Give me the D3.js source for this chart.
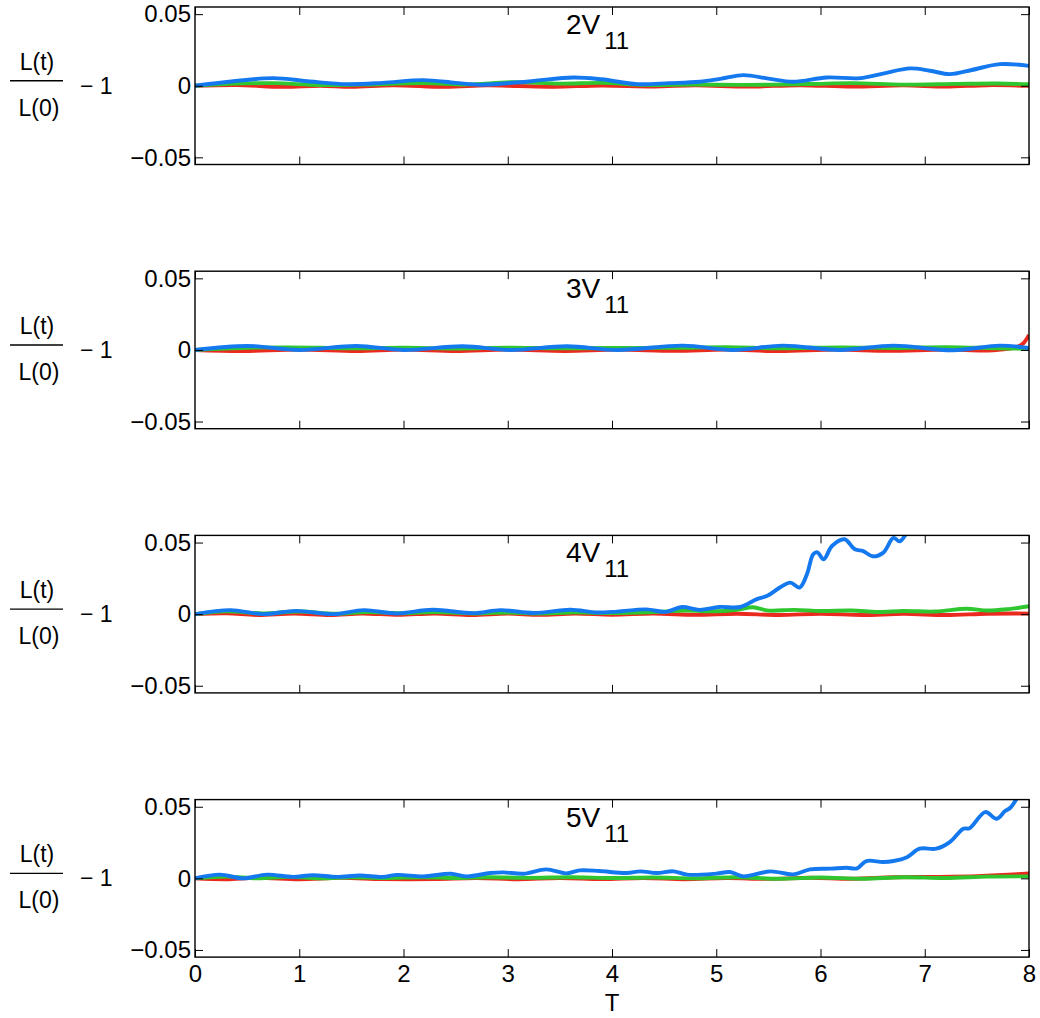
<!DOCTYPE html>
<html>
<head>
<meta charset="utf-8">
<script src="https://cdn.jsdelivr.net/npm/d3@7"></script>
<style>
  body { margin: 0; background: #fff; }
  svg { display: block; font-family: "Liberation Sans", Arial, sans-serif; }
</style>
</head>
<body>
<div id="chart"></div>
<script>
// panel titles (prefix + subscript)
const panelNames = ["2V", "3V", "4V", "5V"];
const panelSub = "11";

const xTicks = [0, 1, 2, 3, 4, 5, 6, 7, 8];
const yTicks = [-0.05, 0, 0.05];

// [T, L(t)/L(0) - 1]
const red1 = [[0,0],[0.4,0.0005],[0.85,-0.0008],[1.2,0],[1.5,-0.0008],[1.9,0.0004],[2.4,-0.0008],[2.8,0.0003],[3.1,-0.0002],[3.45,-0.0007],[3.9,0.0002],[4.4,-0.0005],[4.8,0.0003],[5.3,-0.0006],[5.8,0.0004],[6.3,-0.0006],[6.8,0.0003],[7.2,-0.0006],[7.6,0.0004],[8,0]];
const green1 = [[0,0],[0.4,0.0015],[0.75,0.0018],[1.2,0.0005],[1.6,0.0008],[2.2,0.0018],[2.6,0.0008],[3.05,0.0025],[3.5,0.0015],[3.9,0.002],[4.3,0.0006],[4.8,0.0008],[5.3,0.0006],[5.9,0.0012],[6.3,0.0018],[6.8,0.0008],[7.3,0.0013],[7.7,0.0016],[8,0.001]];
const blue1 = [[0,0],[0.35,0.003],[0.75,0.0053],[1.1,0.003],[1.46,0.0011],[1.8,0.002],[2.19,0.0039],[2.5,0.002],[2.75,0.0007],[3.2,0.003],[3.63,0.0058],[3.9,0.0045],[4.24,0.0011],[4.55,0.0018],[4.84,0.0028],[5.05,0.005],[5.26,0.0074],[5.5,0.005],[5.74,0.0028],[6.06,0.0058],[6.38,0.0053],[6.6,0.0085],[6.86,0.0121],[7.05,0.0105],[7.24,0.0081],[7.45,0.011],[7.72,0.0151],[8,0.0139]];

const red2 = [[0,0],[0.45,-0.0008],[1.0,0.0003],[1.55,-0.0008],[2.0,0.0002],[2.5,-0.0008],[3.0,0.0002],[3.55,-0.0007],[4.05,0.0002],[4.6,-0.0006],[5.1,0.0002],[5.6,-0.0008],[6.15,0.0002],[6.65,-0.0006],[7.2,0.0002],[7.6,-0.0004],[7.8,0.0008],[7.9,0.0025],[7.95,0.005],[8,0.0105]];
const green2 = [[0,0],[0.5,0.0015],[0.9,0.0018],[1.5,0.0012],[2.0,0.0016],[2.5,0.001],[3.0,0.0016],[3.5,0.0012],[4.0,0.0014],[4.6,0.0015],[5.1,0.002],[5.6,0.0012],[6.2,0.0018],[6.7,0.0014],[7.2,0.002],[7.7,0.0012],[8,0.0008]];
const blue2 = [[0,0],[0.5,0.0028],[1.0,0],[1.55,0.0028],[2.0,0],[2.57,0.0026],[3.02,0],[3.57,0.0026],[4.05,0],[4.68,0.003],[5.16,0],[5.64,0.003],[6.19,0],[6.7,0.003],[7.27,-0.0002],[7.72,0.003],[8,0.0014]];

const red3 = [[0,0],[0.3,0.0006],[0.6,-0.0006],[0.95,0.0004],[1.3,-0.0006],[1.6,0.0005],[1.95,-0.0005],[2.3,0.0005],[2.65,-0.0006],[3.0,0.0004],[3.3,-0.0005],[3.65,0.0004],[4.0,-0.0004],[4.4,0.0004],[4.8,-0.0005],[5.2,0.0003],[5.6,-0.0006],[6.0,0.0003],[6.4,-0.0006],[6.8,0.0002],[7.2,-0.0006],[7.6,0.0003],[8,0.0004]];
const green3 = [[0,0],[0.3,0.002],[0.65,0.0005],[1.0,0.0018],[1.35,0.0003],[1.65,0.0015],[2.0,0.0006],[2.3,0.0015],[2.7,0.0005],[3.0,0.0012],[3.3,0.0005],[3.6,0.0012],[4.0,0.0008],[4.4,0.0015],[4.7,0.0025],[5.0,0.002],[5.2,0.003],[5.35,0.0048],[5.5,0.0025],[5.75,0.003],[6.0,0.0022],[6.3,0.0025],[6.55,0.0015],[6.8,0.0022],[7.1,0.0018],[7.4,0.0038],[7.6,0.0025],[7.8,0.0035],[8,0.0055]];
const blue3 = [[0,0],[0.34,0.0028],[0.65,0],[0.97,0.0023],[1.33,0],[1.62,0.0028],[1.93,0.0005],[2.28,0.0031],[2.67,0.0007],[2.93,0.0028],[3.25,0.0008],[3.6,0.0031],[3.85,0.0012],[4.05,0.0018],[4.33,0.0033],[4.52,0.0016],[4.67,0.005],[4.84,0.003],[5.03,0.005],[5.23,0.005],[5.39,0.0105],[5.49,0.0128],[5.61,0.0186],[5.71,0.022],[5.8,0.0186],[5.87,0.0279],[5.93,0.0418],[5.97,0.0432],[6.03,0.0383],[6.11,0.0476],[6.23,0.0523],[6.33,0.0453],[6.41,0.044],[6.5,0.0404],[6.6,0.0428],[6.7,0.0532],[6.76,0.0509],[6.85,0.06]];

const red4 = [[0,0],[0.3,-0.0006],[0.6,0.0004],[1.0,-0.0006],[1.4,0.0003],[1.8,-0.0005],[2.3,-0.0005],[2.7,0.0002],[3.1,-0.0006],[3.5,0.0002],[3.9,-0.0005],[4.3,0.0002],[4.7,-0.0006],[5.1,0.0002],[5.5,-0.0004],[5.9,0.0004],[6.3,-0.0003],[6.7,0.0008],[7.1,0.001],[7.5,0.0015],[7.8,0.0025],[8,0.0035]];
const green4 = [[0,0],[0.3,0.0012],[0.6,0],[0.9,0.001],[1.2,0],[1.5,0.0008],[1.8,0.0002],[2.2,0.0008],[2.5,0.0002],[2.8,0.0008],[3.2,0.0003],[3.6,0.0008],[4.0,0.0002],[4.4,0.0006],[4.8,0],[5.2,0.0008],[5.6,-0.0003],[6.0,0.0006],[6.4,-0.0003],[6.8,0.0008],[7.2,0.0002],[7.6,0.0012],[8,0.0014]];
const blue4 = [[0,0],[0.24,0.0026],[0.46,0],[0.69,0.0026],[0.94,0.001],[1.13,0.0022],[1.36,0.001],[1.58,0.002],[1.8,0.001],[1.94,0.0024],[2.19,0.0014],[2.45,0.0032],[2.61,0.0014],[2.83,0.0037],[2.96,0.0042],[3.15,0.0032],[3.37,0.0063],[3.56,0.0035],[3.69,0.0056],[3.88,0.0051],[4.14,0.0037],[4.27,0.0049],[4.43,0.0037],[4.59,0.0049],[4.72,0.0026],[5.0,0.0033],[5.13,0.0044],[5.26,0.0014],[5.52,0.0049],[5.74,0.0028],[5.9,0.0063],[6.1,0.0068],[6.25,0.0074],[6.35,0.007],[6.44,0.0121],[6.6,0.0114],[6.7,0.0121],[6.83,0.0148],[6.95,0.0207],[7.11,0.0207],[7.24,0.0253],[7.37,0.0347],[7.43,0.035],[7.58,0.0463],[7.69,0.0416],[7.77,0.047],[7.82,0.0493],[7.9,0.058]];

const panelSeries = [
  [red1, green1, blue1],
  [red2, green2, blue2],
  [red3, green3, blue3],
  [red4, green4, blue4]
];
const seriesColors = ["#ea2a1f", "#2fc62f", "#1479ee"];

/** layout */
const W = 1040, H = 1018;
const left = 195, right = 1029;
const panelH = 157.5, panelStep = 264.2, firstTop = 7;
const tickLen = 8;
const tickFont = 24;   // tick labels and T
const labelFont = 23;  // L(t)/L(0) - 1

const svg = d3.select("#chart").append("svg")
  .attr("width", W)
  .attr("height", H);

const x = d3.scaleLinear().domain([0, 8]).range([left, right]);

const line = d3.line()
  .curve(d3.curveCatmullRom.alpha(0.5));

panelSeries.forEach(function(series, i) {
  const top = firstTop + i * panelStep;
  const bottom = top + panelH;
  const y = d3.scaleLinear().domain([-0.055, 0.055]).range([bottom, top]);
  const isLast = i === panelSeries.length - 1;

  const g = svg.append("g").attr("class", "panel");

  // clip for lines
  g.append("clipPath")
    .attr("id", "clip" + i)
    .append("rect")
    .attr("x", left).attr("y", top)
    .attr("width", right - left).attr("height", panelH);

  const lines = g.append("g").attr("clip-path", "url(#clip" + i + ")");
  series.forEach(function(s, k) {
    lines.append("path")
      .attr("d", line(s.map(p => [x(p[0]), y(p[1])])))
      .attr("fill", "none")
      .attr("stroke", seriesColors[k])
      .attr("stroke-width", 3.9)
      .attr("stroke-linejoin", "round");
  });

  // axes, ticks pointing inward
  const axB = g.append("g")
    .attr("transform", "translate(0," + bottom + ")")
    .call(d3.axisBottom(x).tickValues(xTicks).tickSize(-tickLen).tickPadding(8)
      .tickFormat(isLast ? d3.format("d") : ""));
  const axT = g.append("g")
    .attr("transform", "translate(0," + top + ")")
    .call(d3.axisTop(x).tickValues(xTicks).tickSize(-tickLen).tickFormat(""));
  const axL = g.append("g")
    .attr("transform", "translate(" + left + ",0)")
    .call(d3.axisLeft(y).tickValues(yTicks).tickSize(-tickLen).tickPadding(4)
      .tickFormat(d => d === 0 ? "0" : d3.format(".2f")(d).replace("-", "\u2212")));
  const axR = g.append("g")
    .attr("transform", "translate(" + right + ",0)")
    .call(d3.axisRight(y).tickValues(yTicks).tickSize(-tickLen).tickFormat(""));

  [axB, axT, axL, axR].forEach(function(a) {
    a.select(".domain").remove();
    a.selectAll(".tick line").attr("stroke", "#000").attr("stroke-width", 1);
    a.selectAll(".tick text")
      .attr("fill", "#000")
      .style("font-size", tickFont + "px")
      .style("font-family", "'Liberation Sans', Arial, sans-serif");
  });

  // frame
  g.append("rect")
    .attr("x", left).attr("y", top)
    .attr("width", right - left).attr("height", panelH)
    .attr("fill", "none")
    .attr("stroke", "#000")
    .attr("stroke-width", 1.4);

  // panel title, e.g. 2V with subscript 11
  const title = g.append("text")
    .attr("x", 566)
    .attr("y", top + 27)
    .attr("fill", "#000")
    .style("font-size", "28px");
  title.append("tspan").text(panelNames[i]);
  title.append("tspan")
    .attr("dx", 4)
    .attr("dy", 15)
    .style("font-size", "24px")
    .text(panelSub);

  // y label: L(t)/L(0) - 1
  const zeroY = y(0);
  const lab = g.append("g").attr("fill", "#000").style("font-size", labelFont + "px");
  lab.append("text")
    .attr("x", 37).attr("y", zeroY - 16)
    .attr("text-anchor", "middle")
    .text("L(t)");
  lab.append("line")
    .attr("x1", 10).attr("x2", 63)
    .attr("y1", zeroY - 5).attr("y2", zeroY - 5)
    .attr("stroke", "#000")
    .attr("stroke-width", 1.4);
  lab.append("text")
    .attr("x", 39).attr("y", zeroY + 30)
    .attr("text-anchor", "middle")
    .text("L(0)");
  lab.append("text")
    .attr("x", 80).attr("y", zeroY + 8)
    .text("\u2212 1");
});

// x label
svg.append("text")
  .attr("x", x(4))
  .attr("y", 1011)
  .attr("text-anchor", "middle")
  .attr("fill", "#000")
  .style("font-size", tickFont + "px")
  .text("T");
</script>
</body>
</html>
